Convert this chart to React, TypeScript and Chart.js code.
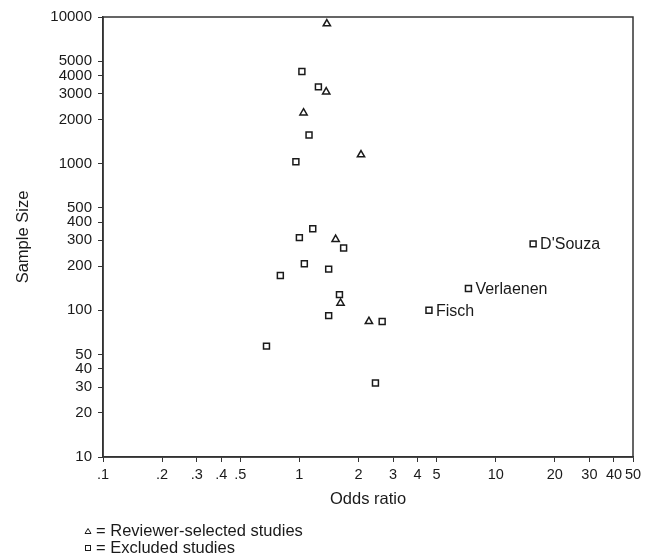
import React, { useEffect, useRef } from "react";
import { Chart, registerables } from "chart.js";
Chart.register(...registerables);

// Reviewer-selected studies (triangles)
const reviewerOR = [1.38, 1.37, 1.05, 2.06, 1.53, 1.62, 2.26];
const reviewerN = [9000, 3090, 2220, 1150, 305, 112, 84];

// Excluded studies (squares)
const excludedOR = [1.03, 1.25, 1.12, 0.96, 1.17, 1.0, 1.68, 1.06, 1.41, 0.8, 1.6, 1.41, 2.64, 0.68, 2.44, 4.57, 7.26, 15.5];
const excludedN = [4250, 3340, 1570, 1030, 360, 313, 266, 208, 191, 173, 128, 92, 84, 57, 32, 100, 141, 284];
const excludedNames = ["", "", "", "", "", "", "", "", "", "", "", "", "", "", "", "Fisch", "Verlaenen", "D'Souza"];

const xTicks = [0.1, 0.2, 0.3, 0.4, 0.5, 1, 2, 3, 4, 5, 10, 20, 30, 40, 50];
const xTickLabels = [".1", ".2", ".3", ".4", ".5", "1", "2", "3", "4", "5", "10", "20", "30", "40", "50"];
const yTicks = [10, 20, 30, 40, 50, 100, 200, 300, 400, 500, 1000, 2000, 3000, 4000, 5000, 10000];
const yTickLabels = ["10", "20", "30", "40", "50", "100", "200", "300", "400", "500", "1000", "2000", "3000", "4000", "5000", "10000"];

const xTitle = "Odds ratio";
const yTitle = "Sample Size";
const legendReviewer = "= Reviewer-selected studies";
const legendExcluded = "= Excluded studies";

const FONT = "'Liberation Sans', Arial, Helvetica, sans-serif";
const INK = "#1a1a1a";

export default function App() {
  const ref = useRef<HTMLCanvasElement | null>(null);

  useEffect(() => {
    if (!ref.current) return;

    const framePlugin = {
      id: "frame",
      afterDraw(chart: any) {
        const { ctx, chartArea: a } = chart;
        ctx.save();
        ctx.strokeStyle = "#333";
        ctx.lineWidth = 1.5;
        ctx.strokeRect(a.left, a.top, a.right - a.left, a.bottom - a.top);
        ctx.restore();
      },
    };

    const textPlugin = {
      id: "texts",
      afterDraw(chart: any) {
        const { ctx, chartArea: a } = chart;
        ctx.save();
        ctx.fillStyle = INK;
        // point labels
        const meta = chart.getDatasetMeta(1);
        ctx.font = `16px ${FONT}`;
        ctx.textAlign = "left";
        ctx.textBaseline = "middle";
        meta.data.forEach((el: any, i: number) => {
          const name = excludedNames[i];
          if (name) ctx.fillText(name, el.x + 7, el.y + 1);
        });
        // x title
        ctx.font = `16.5px ${FONT}`;
        ctx.textAlign = "center";
        ctx.fillText(xTitle, (a.left + a.right) / 2, 499);
        // y title
        ctx.save();
        ctx.translate(23, (a.top + a.bottom) / 2);
        ctx.rotate(-Math.PI / 2);
        ctx.fillText(yTitle, 0, 0);
        ctx.restore();
        // legend
        ctx.font = `16.5px ${FONT}`;
        ctx.textAlign = "left";
        ctx.strokeStyle = INK;
        ctx.lineWidth = 1;
        const lx = 88;
        const y1 = 531;
        const y2 = 548;
        ctx.beginPath();
        ctx.moveTo(lx - 3, y1 + 2.5);
        ctx.lineTo(lx + 3, y1 + 2.5);
        ctx.lineTo(lx, y1 - 2.5);
        ctx.closePath();
        ctx.stroke();
        ctx.strokeRect(lx - 2.5, y2 - 2.5, 5, 5);
        ctx.fillText(legendReviewer, lx + 8, y1);
        ctx.fillText(legendExcluded, lx + 8, y2);
        ctx.restore();
      },
    };

    const chart = new Chart(ref.current, {
      type: "scatter",
      data: {
        datasets: [
          {
            label: "Reviewer-selected studies",
            data: reviewerOR.map((x, i) => ({ x, y: reviewerN[i] })),
            pointStyle: "triangle",
            pointRadius: 4.2,
            borderColor: INK,
            backgroundColor: "#fff",
            borderWidth: 1.5,
          },
          {
            label: "Excluded studies",
            data: excludedOR.map((x, i) => ({ x, y: excludedN[i] })),
            pointStyle: "rect",
            pointRadius: 4.2,
            borderColor: INK,
            backgroundColor: "#fff",
            borderWidth: 1.5,
          },
        ],
      },
      options: {
        responsive: false,
        animation: false,
        layout: { padding: { top: 17, right: 24, bottom: 62, left: 0 } },
        plugins: {
          legend: { display: false },
          tooltip: { enabled: false },
        },
        scales: {
          x: {
            type: "logarithmic",
            min: 0.1,
            max: 50,
            afterBuildTicks: (scale: any) => {
              scale.ticks = xTicks.map((v) => ({ value: v }));
            },
            afterFit: (scale: any) => {
              scale.height = 40;
            },
            ticks: {
              autoSkip: false,
              maxRotation: 0,
              padding: 4,
              color: INK,
              font: { family: FONT, size: 14.5 },
              callback: (v: any) => {
                const i = xTicks.indexOf(Number(v));
                return i >= 0 ? xTickLabels[i] : "";
              },
            },
            grid: { drawOnChartArea: false, drawTicks: true, tickLength: 5, color: "#333", lineWidth: 1 },
            border: { display: true, color: "#333", width: 1.5 },
          },
          y: {
            type: "logarithmic",
            min: 10,
            max: 10000,
            afterBuildTicks: (scale: any) => {
              scale.ticks = yTicks.map((v) => ({ value: v }));
            },
            afterFit: (scale: any) => {
              scale.width = 103;
            },
            ticks: {
              autoSkip: false,
              padding: 6,
              color: INK,
              font: { family: FONT, size: 15 },
              callback: (v: any) => {
                const i = yTicks.indexOf(Number(v));
                return i >= 0 ? yTickLabels[i] : "";
              },
            },
            grid: { drawOnChartArea: false, drawTicks: true, tickLength: 5, color: "#333", lineWidth: 1 },
            border: { display: true, color: "#333", width: 1.5 },
          },
        },
      },
      plugins: [framePlugin, textPlugin],
    } as any);

    return () => chart.destroy();
  }, []);

  return (
    <div style={{ position: "absolute", left: 0, top: 0, width: 657, height: 559, background: "#fff" }}>
      <canvas ref={ref} width={657} height={559} style={{ display: "block" }} />
    </div>
  );
}
